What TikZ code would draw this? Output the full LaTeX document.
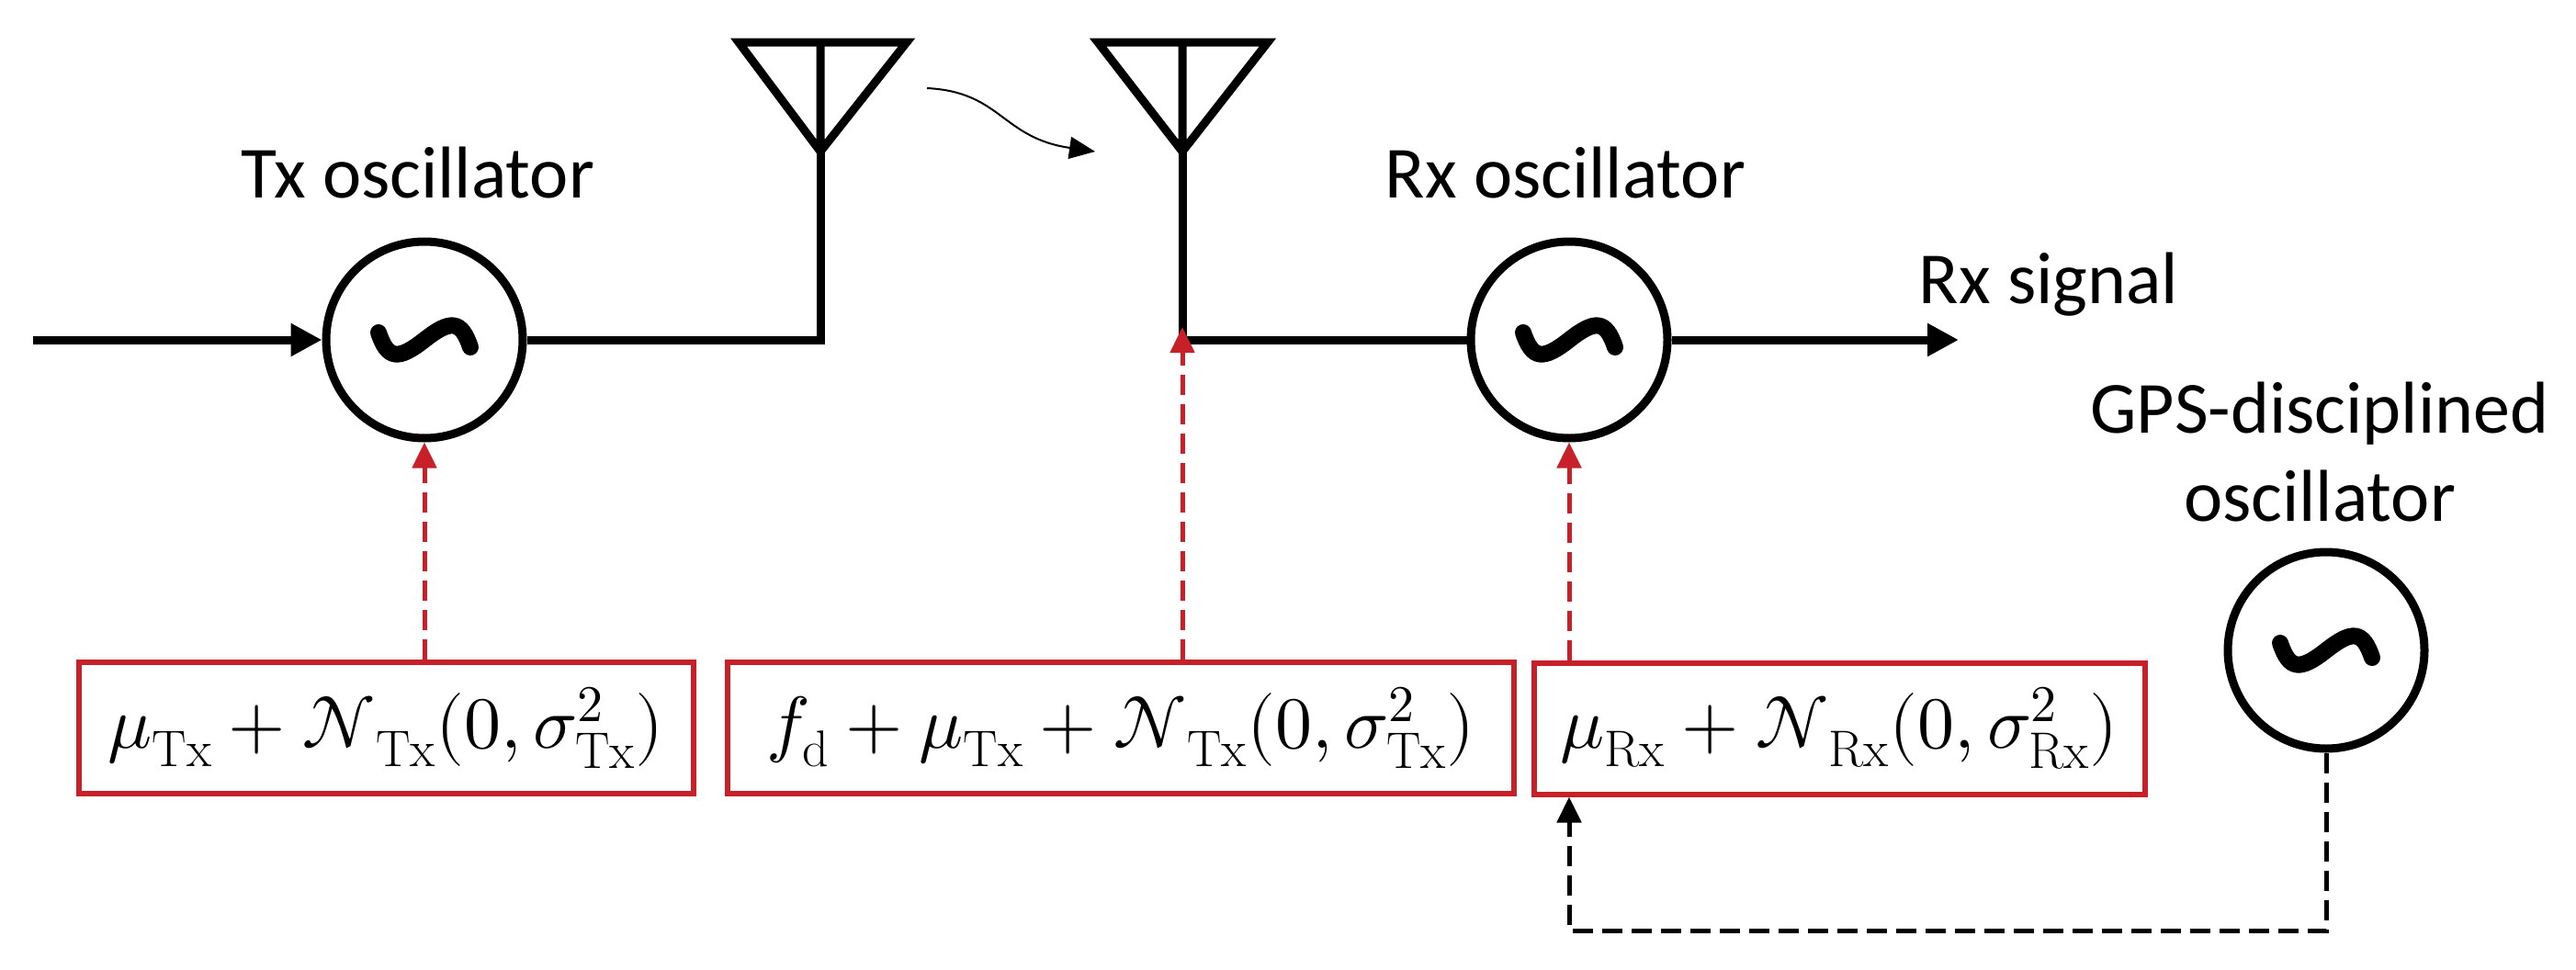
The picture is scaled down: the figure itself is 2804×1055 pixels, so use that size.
\documentclass[tikz,border=0pt]{standalone}
\usepackage{amsmath}
\usepackage{fontspec}
\usepackage{unicode-math}
\setmainfont{Carlito}
\setmathfont{Latin Modern Math}
\setmathrm{Latin Modern Roman}
\usetikzlibrary{arrows.meta}
\definecolor{boxred}{RGB}{200,32,40}
\begin{document}
\begin{tikzpicture}[x=1pt,y=-1pt,
    osc/.style = {draw, circle, line width=9pt, minimum size=214pt, inner sep=0pt,
      path picture={\draw[line width=18pt, line cap=round]
        ([shift={(-50pt,8pt)}]path picture bounding box.center)
        .. controls +(10pt,-30pt) and +(-28pt,-22pt) .. ([shift={(0pt,0pt)}]path picture bounding box.center)
        .. controls +(28pt,22pt) and +(-10pt,30pt) .. ([shift={(50pt,-8pt)}]path picture bounding box.center);}},
    lbl/.style = {font=\fontsize{80}{96}\selectfont, align=center},
    param/.style = {draw=boxred, line width=6pt, minimum height=143pt, inner sep=0pt, font=\fontsize{80}{90}\selectfont},
    wire/.style = {line width=9pt},
    redarr/.style = {draw=boxred, line width=5pt, dash pattern=on 22pt off 10pt, -{Triangle[length=28pt,width=26pt]}},
    blkarr/.style = {line width=5pt, dash pattern=on 22pt off 10pt, -{Triangle[length=28pt,width=26pt]}}]
    \useasboundingbox (0,0) rectangle (2804,1055);
    % oscillators
    \node[osc] (txosc) at (462,370) {};
    \node[osc] (rxosc) at (1708,370) {};
    \node[osc] (gpsosc) at (2532,708) {};
    \node[lbl] (txlbl) at (455,188) {Tx oscillator};
    \node[lbl] (rxlbl) at (1704,188) {Rx oscillator};
    \node[lbl] (siglbl) at (2230,310) {Rx signal};
    \node[lbl] (gpslbl) at (2525,492) {GPS-disciplined\\oscillator};
    % antennas
    \coordinate (in) at (36,370);
    \coordinate (txfoot) at (893,370);
    \coordinate (txtip) at (893,165);
    \coordinate (rxfoot) at (1287,370);
    \coordinate (rxtip) at (1287,165);
    \coordinate (out) at (2132,370);
    \draw[wire, line join=miter] (804,46) -- (987,46) -- (txtip) -- cycle (txtip) -- (893,46);
    \draw[wire, line join=miter] (1195,46) -- (1380,46) -- (rxtip) -- cycle (rxtip) -- (1287,46);
    \draw[wire, -{Triangle[length=34pt,width=34pt]}] (in) -- (txosc);
    \draw[wire] (txosc) -- (txfoot) -- (txtip);
    \draw[wire] (rxtip) -- (rxfoot) -- (rxosc);
    \draw[wire, -{Triangle[length=34pt,width=34pt]}] (rxosc) -- (out);
    \coordinate (ch1) at (1009,96);
    \coordinate (ch2) at (1192,165);
    \draw[line width=2pt, -{Triangle[length=28pt,width=24pt]}] (ch1) .. controls (1090,100) and (1090,150) .. (ch2);
    % parameter boxes
    \node[param, minimum width=669pt] (txpar) at (420,792) {$\mu_{\mathrm{Tx}}+\mathcal{N}_{\mathrm{Tx}}(0,\sigma^2_{\mathrm{Tx}})$};
    \node[param, minimum width=856pt] (chpar) at (1220,792) {$f_{\mathrm{d}}+\mu_{\mathrm{Tx}}+\mathcal{N}_{\mathrm{Tx}}(0,\sigma^2_{\mathrm{Tx}})$};
    \node[param, minimum width=665pt] (rxpar) at (2002,793) {$\mu_{\mathrm{Rx}}+\mathcal{N}_{\mathrm{Rx}}(0,\sigma^2_{\mathrm{Rx}})$};
    \draw[redarr] (txpar.north -| txosc) -- (txosc);
    \draw[redarr] (chpar.north -| rxfoot) -- ([yshift=14pt]rxfoot);
    \draw[redarr] (rxpar.north -| rxosc) -- (rxosc);
    \coordinate (gpsturn) at (2532,1013);
    \draw[blkarr] (gpsosc) -- (gpsturn) -- (gpsturn -| rxosc) -- (rxpar.south -| rxosc);
\end{tikzpicture}
\end{document}
